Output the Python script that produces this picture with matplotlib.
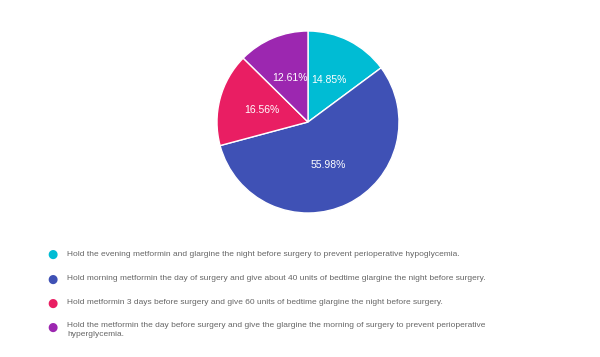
import matplotlib.pyplot as plt

labels = [
    "Hold the evening metformin and glargine the night before surgery to prevent perioperative hypoglycemia.",
    "Hold morning metformin the day of surgery and give about 40 units of bedtime glargine the night before surgery.",
    "Hold metformin 3 days before surgery and give 60 units of bedtime glargine the night before surgery.",
    "Hold the metformin the day before surgery and give the glargine the morning of surgery to prevent perioperative\nhyperglycemia.",
]
values = [14.85, 55.98, 16.56, 12.61]
colors = ["#00BCD4", "#3F51B5", "#E91E63", "#9C27B0"]

plt.rcParams['font.family'] = ['Liberation Sans', 'DejaVu Sans']

fig = plt.figure(figsize=(6, 3.57), dpi=100)
fig.patch.set_facecolor("white")

# pie: centre ~ (308, 122) px, radius ~ 91 px
r = 91
ax = fig.add_axes([(308 - r) / 600, 1 - (122 + r) / 357, 2 * r / 600, 2 * r / 357])
wedges, texts, autotexts = ax.pie(
    values, colors=colors, startangle=90, counterclock=False,
    autopct=lambda p: "%.2f%%" % p, pctdistance=0.52,
    wedgeprops=dict(edgecolor="white", linewidth=1),
    textprops=dict(color="white", fontsize=7.5),
)
ax.set_xlim(-1, 1)
ax.set_ylim(-1, 1)
ax.set_aspect("equal")
ax.axis("off")

# legend rows
row_y = [254, 279, 303, 327]
for lab, col, y in zip(labels, colors, row_y):
    fy = 1 - y / 357
    fig.text(52 / 600, fy, "\u25CF", color=col, fontsize=8.5, ha="center", va="center",
             family="DejaVu Sans")
    if "\n" in lab:
        fig.text(67 / 600, fy + 5 / 357, lab, color="#666666", fontsize=6.05,
                 ha="left", va="top", linespacing=1.3)
    else:
        fig.text(67 / 600, fy, lab, color="#666666", fontsize=6.05,
                 ha="left", va="center")

fig.savefig("out.png", dpi=100)
